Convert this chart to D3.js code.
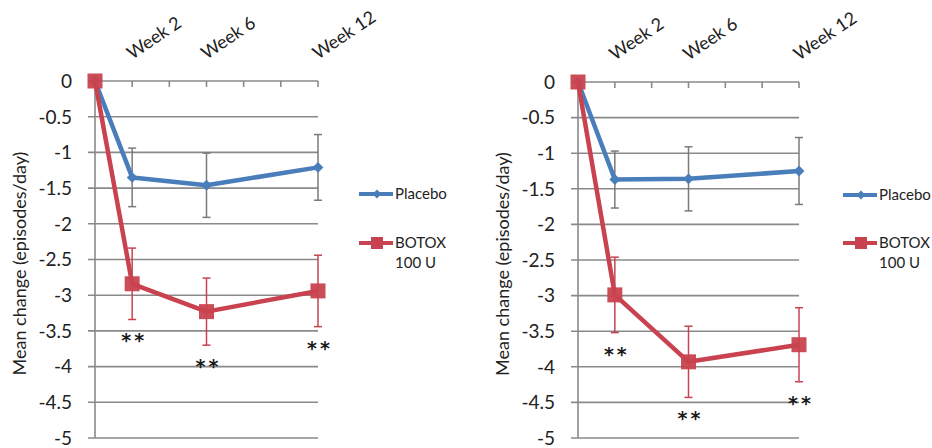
<!DOCTYPE html>
<html>
<head>
<meta charset="utf-8">
<script src="https://cdn.jsdelivr.net/npm/d3@7"></script>
<style>
  html, body { margin: 0; padding: 0; background: #fff; }
  svg { display: block; font-family: Lato, "Open Sans", sans-serif; }
</style>
</head>
<body>
<svg id="chart" width="932" height="448"></svg>
<script>
// Visit weeks (week 0 = baseline) and labelled weeks
const weeks = [0, 2, 6, 12];
const weekLabels = ["Week 2", "Week 6", "Week 12"];
const labelWeeks = [2, 6, 12];
const yTicks = [0, -0.5, -1, -1.5, -2, -2.5, -3, -3.5, -4, -4.5, -5];
const seriesNames = ["Placebo", "BOTOX\n100 U"];

// Left panel: mean change and error
const placeboLeft = [0, -1.35, -1.46, -1.21];
const placeboLeftErr = [0, 0.41, 0.45, 0.46];
const botoxLeft = [0, -2.84, -3.23, -2.94];
const botoxLeftErr = [0, 0.50, 0.47, 0.50];

// Right panel: mean change and error
const placeboRight = [0, -1.37, -1.36, -1.25];
const placeboRightErr = [0, 0.40, 0.45, 0.47];
const botoxRight = [0, -2.99, -3.93, -3.69];
const botoxRightErr = [0, 0.53, 0.50, 0.52];

// Significance markers shown beneath BOTOX points
const sigMarks = ["", "**", "**", "**"];

const BLUE = "#4a7ebb";
const RED = "#c8434f";
const GRID = "#8a8a8a";

const svg = d3.select("#chart");

function panel(cfg) {
  const g = svg.append("g");
  const x = d3.scaleLinear().domain([0, 12]).range([cfg.x0, cfg.x1]);
  const y = d3.scaleLinear().domain([0, -5]).range([cfg.y0, cfg.y1]);

  // horizontal gridlines
  g.append("g").selectAll("line").data(yTicks).join("line")
    .attr("x1", cfg.x0 - 7).attr("x2", cfg.x1)
    .attr("y1", d => y(d)).attr("y2", d => y(d))
    .attr("stroke", GRID).attr("stroke-width", 1.6);

  // y axis line
  g.append("line")
    .attr("x1", cfg.x0).attr("x2", cfg.x0)
    .attr("y1", y(0)).attr("y2", y(-5))
    .attr("stroke", GRID).attr("stroke-width", 1.6);

  // y tick labels
  g.append("g").selectAll("text").data(yTicks).join("text")
    .attr("x", cfg.x0 - 23).attr("y", d => y(d))
    .attr("dy", "0.36em")
    .attr("text-anchor", "end")
    .attr("font-size", 19).attr("fill", "#222")
    .text(d => d3.format("")(d).replace("−", "-"));

  // top category ticks every 2 weeks
  g.append("g").selectAll("line").data(d3.range(2, 13, 2)).join("line")
    .attr("x1", d => x(d)).attr("x2", d => x(d))
    .attr("y1", y(0)).attr("y2", y(0) + 6)
    .attr("stroke", GRID).attr("stroke-width", 1.6);

  // rotated week labels
  g.append("g").selectAll("text").data(labelWeeks).join("text")
    .attr("transform", (d) => `translate(${x(d)},${y(0) - 21}) rotate(-34)`)
    .attr("font-size", 18).attr("fill", "#222")
    .text((d, i) => weekLabels[i]);

  // y axis title
  g.append("text")
    .attr("transform", `translate(${cfg.titleX},${(y(0) + y(-5)) / 2 + 4}) rotate(-90)`)
    .attr("text-anchor", "middle")
    .attr("font-size", 18).attr("fill", "#222")
    .text("Mean change (episodes/day)");

  const line = d3.line().x((d, i) => x(weeks[i])).y(d => y(d));

  function errorBars(vals, errs, color) {
    const eg = g.append("g").attr("stroke", color).attr("stroke-width", 1.5);
    vals.forEach((v, i) => {
      if (!errs[i]) return;
      const cx = x(weeks[i]);
      eg.append("line").attr("x1", cx).attr("x2", cx)
        .attr("y1", y(v + errs[i])).attr("y2", y(v - errs[i]));
      [v + errs[i], v - errs[i]].forEach(e => {
        eg.append("line").attr("x1", cx - 4).attr("x2", cx + 4)
          .attr("y1", y(e)).attr("y2", y(e));
      });
    });
  }

  // placebo
  errorBars(cfg.placebo, cfg.placeboErr, "#7a7a7a");
  g.append("path").datum(cfg.placebo)
    .attr("d", line).attr("fill", "none")
    .attr("stroke", BLUE).attr("stroke-width", 4.5).attr("stroke-linejoin", "round");
  g.append("g").selectAll("path").data(cfg.placebo).join("path")
    .attr("d", d3.symbol(d3.symbolDiamond2, 75))
    .attr("transform", (d, i) => `translate(${x(weeks[i])},${y(d)})`)
    .attr("fill", BLUE);

  // BOTOX
  errorBars(cfg.botox, cfg.botoxErr, RED);
  g.append("path").datum(cfg.botox)
    .attr("d", line).attr("fill", "none")
    .attr("stroke", RED).attr("stroke-width", 4.5).attr("stroke-linejoin", "round");
  g.append("g").selectAll("rect").data(cfg.botox).join("rect")
    .attr("x", (d, i) => x(weeks[i]) - 7.5).attr("y", d => y(d) - 7.5)
    .attr("width", 15).attr("height", 15)
    .attr("fill", RED).attr("opacity", 0.95);

  // significance asterisks
  g.append("g").selectAll("text").data(cfg.botox).join("text")
    .attr("x", (d, i) => x(weeks[i]) + 2)
    .attr("y", (d, i) => y(d - cfg.botoxErr[i]) + 28)
    .attr("text-anchor", "middle")
    .attr("font-family", "DejaVu Sans")
    .attr("font-weight", "bold")
    .attr("font-size", 19).attr("fill", "#1a1a1a")
    .attr("letter-spacing", 3)
    .text((d, i) => sigMarks[i]);

  // legend
  const lg = g.append("g");
  const items = [
    { name: seriesNames[0], color: BLUE, y: cfg.legY[0], marker: "diamond" },
    { name: seriesNames[1], color: RED, y: cfg.legY[1], marker: "square" }
  ];
  items.forEach(it => {
    lg.append("line")
      .attr("x1", cfg.legX).attr("x2", cfg.legX + 34)
      .attr("y1", it.y).attr("y2", it.y)
      .attr("stroke", it.color).attr("stroke-width", 4);
    if (it.marker === "diamond") {
      lg.append("path").attr("d", d3.symbol(d3.symbolDiamond2, 50))
        .attr("transform", `translate(${cfg.legX + 18},${it.y})`)
        .attr("fill", it.color);
    } else {
      lg.append("rect")
        .attr("x", cfg.legX + 12).attr("y", it.y - 6)
        .attr("width", 12).attr("height", 12).attr("fill", it.color);
    }
    const t = lg.append("text")
      .attr("x", cfg.legX + 36).attr("y", it.y)
      .attr("font-size", 15).attr("fill", "#222");
    it.name.split("\n").forEach((s, k) => {
      t.append("tspan").attr("x", cfg.legX + 36)
        .attr("dy", k === 0 ? "0.36em" : "1.3em").text(s);
    });
  });
}

panel({
  x0: 95, x1: 318, y0: 81, y1: 438, titleX: 26, legX: 359, legY: [194, 243],
  placebo: placeboLeft, placeboErr: placeboLeftErr,
  botox: botoxLeft, botoxErr: botoxLeftErr
});

panel({
  x0: 578, x1: 799, y0: 82, y1: 438, titleX: 509, legX: 843, legY: [195, 243],
  placebo: placeboRight, placeboErr: placeboRightErr,
  botox: botoxRight, botoxErr: botoxRightErr
});
</script>
</body>
</html>
